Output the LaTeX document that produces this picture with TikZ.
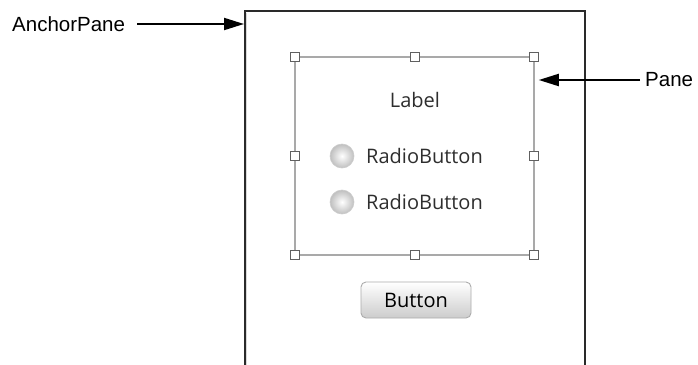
\documentclass[tikz,border=0pt]{standalone}
\usepackage{fontspec}
\setmainfont{Liberation Sans}
\newfontfamily\uifont{Open Sans}
\usetikzlibrary{arrows.meta,positioning}
\definecolor{panegray}{HTML}{A9A9A9}
\definecolor{handlegray}{HTML}{606060}
\definecolor{uitextgray}{HTML}{2E2E2E}
\definecolor{framegray}{HTML}{2A2A2A}

\begin{document}
\begin{tikzpicture}[x=1pt, y=-1pt,
  callout/.style={inner sep=0pt, font=\fontsize{20.5}{24}\selectfont},
  pointer/.style={line width=2pt, -{Triangle[length=20pt, width=12pt]}},
  framebox/.style={draw=framegray, line width=1.8pt, fill=white, minimum width=340pt, minimum height=380pt, inner sep=0pt},
  paneline/.style={draw=panegray, line width=1.1pt},
  handle/.style={draw=handlegray, line width=1pt, fill=white, minimum size=8.5pt, inner sep=0pt},
  uitext/.style={inner sep=0pt, text=uitextgray, font=\uifont\fontsize{20}{24}\selectfont},
  radio/.style={circle, draw=gray!40, line width=0.6pt, inner color=white, outer color=gray!50, minimum size=24pt, inner sep=0pt},
  pushbtn/.style={draw=gray!65, line width=0.9pt, rounded corners=5pt, top color=white, bottom color=gray!40, minimum width=110pt, minimum height=36pt, inner sep=0pt, text=black, font=\uifont\fontsize{20}{24}\selectfont}]
  \useasboundingbox (0,0) rectangle (698,364);

  % outer anchor pane
  \node[framebox, anchor=north west] (anchorpane) at (244,10) {};
  \draw[gray!30, line width=1pt] ([xshift=2.5pt, yshift=-2.5pt]anchorpane.north west) -- ([xshift=2.5pt]anchorpane.south west);

  % inner pane with its handles
  \coordinate (pane-nw) at (295,57);
  \coordinate (pane-se) at (534,255);
  \draw[paneline] (pane-nw) rectangle (pane-se);
  \node[handle] (h-nw) at (295,57) {};
  \node[handle] (h-n) at (415,57) {};
  \node[handle] (h-ne) at (534,57) {};
  \node[handle] (h-w) at (295,156) {};
  \node[handle] (h-e) at (534,156) {};
  \node[handle] (h-sw) at (295,255) {};
  \node[handle] (h-s) at (415,255) {};
  \node[handle] (h-se) at (534,255) {};

  % controls
  \node[uitext] (label) at (415,100) {Label};
  \node[radio] (radio-a) at (342,156) {};
  \node[uitext, anchor=west] (radiotext-a) at (366,156) {RadioButton};
  \node[radio] (radio-b) at (342,202) {};
  \node[uitext, anchor=west] (radiotext-b) at (366,202) {RadioButton};
  \node[pushbtn] (button) at (416,300) {Button};

  % callouts
  \node[callout, anchor=west] (anchorlbl) at (12,24) {AnchorPane};
  \draw[pointer] ([xshift=12pt]anchorlbl.east) -- ([yshift=-14pt]anchorpane.north west);
  \node[callout, anchor=west] (panelbl) at (645,80) {Pane};
  \draw[pointer] ([xshift=-5pt]panelbl.west) -- (panelbl.west -| h-e.east);
\end{tikzpicture}
\end{document}
